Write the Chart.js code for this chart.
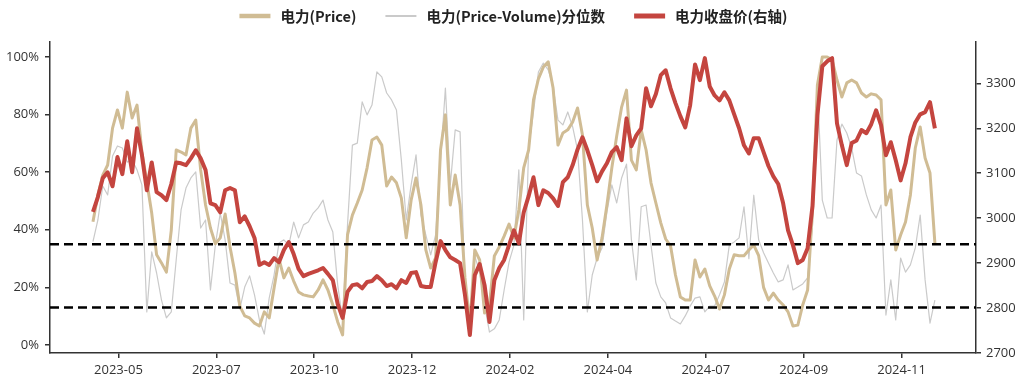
<!DOCTYPE html>
<html lang="zh-CN">
<head>
<meta charset="UTF-8">
<title>电力 量价分位数与收盘价</title>
<script src="https://cdn.jsdelivr.net/npm/chart.js"></script>
<style>
  html, body { margin: 0; padding: 0; background: #fff; }
</style>
</head>
<body>
<canvas id="chart" width="1024" height="386"></canvas>
<script>
// x axis: sample index (one sample ~ two trading days), tick labels at these positions
const xTickLabels = ['2023-05', '2023-07', '2023-10', '2023-12', '2024-02', '2024-04', '2024-07', '2024-09', '2024-11'];
const xTickPos = [5.2, 25.2, 45.2, 65.2, 85.2, 105.2, 125.2, 145.2, 165.2];
const leftTicks = [0, 20, 40, 60, 80, 100];
const rightTicks = [2700, 2800, 2900, 3000, 3100, 3200, 3300];
const dashLevels = [35, 13];

// 电力(Price) quantile, %
const pricePct = [42.8,52.1,59.0,62.5,75.3,81.6,75.3,87.8,78.8,83.3,
67.0,56.6,45.8,31.3,28.5,25.3,39.9,67.7,67.0,66.0,
75.3,78.1,60.8,48.6,40.6,35.1,37.2,45.5,34.0,25.0,
13.5,10.1,9.4,7.6,6.6,11.5,9.4,19.8,29.9,23.3,
26.7,22.2,18.4,17.4,17.0,16.7,19.1,22.6,19.1,13.9,
8.0,3.5,38.2,45.1,49.3,53.8,61.5,71.2,72.2,69.4,
55.2,58.3,56.3,51.0,37.2,50.3,58.0,48.6,33.0,26.7,
30.2,67.7,79.9,48.6,59.0,48.6,23.3,6.9,33.0,29.5,
11.1,13.9,30.9,34.0,37.8,42.0,37.2,46.9,61.5,67.7,
85.1,92.4,96.5,98.3,89.2,69.4,73.6,74.7,77.4,82.3,
72.9,48.6,40.6,29.5,37.2,48.6,61.5,72.6,82.6,88.5,
64.2,60.8,74.7,67.7,56.3,49.3,42.4,36.8,34.4,24.3,
16.7,15.6,15.6,29.5,23.6,26.4,20.5,17.0,12.5,17.4,
26.4,31.3,31.0,31.0,33.0,34.7,31.0,20.0,15.6,18.0,
15.6,13.9,11.5,6.6,6.9,13.9,19.1,46.9,90.3,100,
100,99.0,92.0,86.1,91.0,92.0,91.0,87.5,86.1,87.2,
86.8,85.1,48.6,53.8,33.0,38.2,42.7,52.1,68.4,75.7,
64.9,59.7,35.4];

// 电力(Price-Volume) quantile, %
const pvPct = [35.9,43.4,55.2,52.1,65.6,69.1,68.4,63.5,64.2,60.8,
55.6,11.5,32.3,25.0,15.6,9.4,11.5,29.5,46.9,54.5,
58.0,60.1,40.6,43.4,19.1,34.7,45.8,36.5,21.5,20.8,
12.5,20.1,24.0,17.4,8.7,3.8,16.3,24.3,35.4,36.5,
34.7,42.7,37.2,41.7,42.7,45.8,47.6,50.3,43.4,39.2,
20.8,8.7,41.7,69.4,70.1,84.4,79.9,83.3,94.8,93.1,
87.5,85.1,81.6,64.2,43.4,55.6,66.0,45.1,38.2,31.3,
38.2,64.2,89.2,55.6,74.7,74.0,19.1,9.4,30.9,25.3,
13.9,4.5,5.6,8.7,19.1,28.8,34.7,60.8,8.7,68.4,
80.9,94.8,97.9,95.5,89.9,78.1,76.4,80.9,75.7,67.7,
43.4,11.5,24.3,30.2,33.7,46.2,55.6,49.3,58.0,62.8,
36.5,22.6,48.0,48.6,34.7,21.5,16.7,14.6,9.4,8.3,
7.3,10.1,13.5,16.3,16.7,11.5,13.5,13.5,17.4,21.9,
34.7,35.8,37.2,48.0,30.0,52.0,36.5,32.0,28.5,25.0,
21.9,22.6,27.8,19.1,20.1,21.2,23.3,41.7,90.3,50.3,
44.1,44.1,71.2,76.7,73.6,68.4,59.7,58.7,52.1,46.9,
44.1,48.6,10.4,22.6,8.7,30.2,25.3,27.8,33.7,45.1,
22.6,7.6,15.6];

// 电力收盘价 (right axis)
const closePrice = [3014,3047,3089,3102,3071,3136,3098,3171,3102,3200,
3140,3062,3124,3058,3051,3040,3076,3124,3122,3118,
3133,3151,3133,3107,3033,3029,3013,3062,3067,3062,
2991,3004,2982,2956,2896,2902,2896,2911,2902,2929,
2947,2920,2887,2871,2876,2880,2884,2889,2876,2862,
2809,2778,2836,2851,2853,2844,2858,2860,2871,2862,
2849,2853,2844,2862,2856,2878,2880,2849,2847,2847,
2902,2949,2929,2913,2907,2900,2829,2740,2873,2898,
2851,2769,2862,2889,2907,2940,2973,2944,3013,3049,
3091,3029,3062,3056,3044,3027,3080,3091,3118,3153,
3180,3151,3118,3082,3104,3122,3147,3158,3129,3222,
3160,3184,3200,3289,3249,3276,3318,3329,3289,3256,
3227,3202,3251,3342,3307,3356,3293,3273,3262,3280,
3262,3231,3200,3162,3144,3178,3178,3147,3116,3093,
3076,3033,2973,2940,2900,2907,2933,3027,3229,3338,
3349,3356,3211,3162,3118,3167,3173,3196,3189,3209,
3240,3207,3140,3169,3129,3084,3122,3180,3213,3231,
3236,3258,3200];

const X_MIN = -8.78, X_MAX = 180.4;
const TAN = '#D0BC94', GRAY = '#CACACA', RED = '#C4453F', AXIS = '#333';
const idx = closePrice.map((_, i) => i);

const lineBase = { pointRadius: 0, tension: 0, borderJoinStyle: 'round', fill: false };

const datasets = [
  { ...lineBase, label: '电力(Price)', data: pricePct, yAxisID: 'y', borderColor: TAN, backgroundColor: TAN, borderWidth: 3, order: 2, legendWidth: 4.5 },
  { ...lineBase, label: '电力(Price-Volume)分位数', data: pvPct, yAxisID: 'y', borderColor: GRAY, backgroundColor: GRAY, borderWidth: 1.2, order: 3, legendWidth: 2 },
  { ...lineBase, label: '电力收盘价(右轴)', data: closePrice, yAxisID: 'y1', borderColor: RED, backgroundColor: RED, borderWidth: 4, order: 0, legendWidth: 5 }
];
dashLevels.forEach(v => {
  datasets.push({ ...lineBase, label: 'dash', data: [{ x: X_MIN, y: v }, { x: X_MAX, y: v }], yAxisID: 'y',
    borderColor: '#000', borderWidth: 2.6, borderDash: [9, 5], order: 1, noLegend: true });
});

// legend drawn across the top, centred
const topLegend = {
  id: 'topLegend',
  afterDraw(chart) {
    const ctx = chart.ctx;
    const items = chart.data.datasets.filter(d => !d.noLegend);
    ctx.save();
    ctx.font = 'bold 14.5px "Noto Sans CJK SC", sans-serif';
    ctx.textBaseline = 'middle';
    const lineLen = 31, gap = 10, itemGap = 29, y = 16;
    const widths = items.map(d => lineLen + gap + ctx.measureText(d.label).width);
    const total = widths.reduce((a, b) => a + b, 0) + itemGap * (items.length - 1);
    let x = 513.5 - total / 2;
    items.forEach((d, i) => {
      ctx.strokeStyle = d.borderColor;
      ctx.lineWidth = d.legendWidth;
      ctx.beginPath();
      ctx.moveTo(x, y);
      ctx.lineTo(x + lineLen, y);
      ctx.stroke();
      ctx.fillStyle = '#222';
      ctx.fillText(d.label, x + lineLen + gap, y);
      x += widths[i] + itemGap;
    });
    ctx.restore();
  }
};

const tickFont = { family: '"Open Sans", sans-serif', size: 13 };

new Chart(document.getElementById('chart'), {
  type: 'line',
  data: { labels: idx, datasets },
  options: {
    responsive: false,
    animation: false,
    layout: { padding: { top: 42, left: 0, right: 0, bottom: 0 } },
    plugins: { legend: { display: false }, tooltip: { enabled: false } },
    scales: {
      x: {
        type: 'linear', min: X_MIN, max: X_MAX,
        afterBuildTicks: s => { s.ticks = xTickPos.map(v => ({ value: v })); },
        afterFit: s => { s.height = 33; },
        ticks: { autoSkip: false, maxRotation: 0, padding: 4, color: AXIS, font: tickFont,
          callback: (v, i) => xTickLabels[i] },
        grid: { drawOnChartArea: false, drawTicks: true, tickLength: 5, color: AXIS, lineWidth: 1.5 },
        border: { display: true, color: AXIS, width: 1.5 }
      },
      y: {
        position: 'left', min: -2.78, max: 105.2,
        afterBuildTicks: s => { s.ticks = leftTicks.map(v => ({ value: v })); },
        afterFit: s => { s.width = 50; },
        ticks: { padding: 6, color: AXIS, font: tickFont, callback: v => v + '%' },
        grid: { drawOnChartArea: false, drawTicks: true, tickLength: 5, color: AXIS, lineWidth: 1.5 },
        border: { display: true, color: AXIS, width: 1.5 }
      },
      y1: {
        position: 'right', min: 2700, max: 3391.9,
        afterBuildTicks: s => { s.ticks = rightTicks.map(v => ({ value: v })); },
        afterFit: s => { s.width = 48; },
        ticks: { padding: 5, color: AXIS, font: tickFont, callback: v => String(v) },
        grid: { drawOnChartArea: false, drawTicks: true, tickLength: 5, color: AXIS, lineWidth: 1.5 },
        border: { display: true, color: AXIS, width: 1.5 }
      }
    }
  },
  plugins: [topLegend]
});
</script>
</body>
</html>
